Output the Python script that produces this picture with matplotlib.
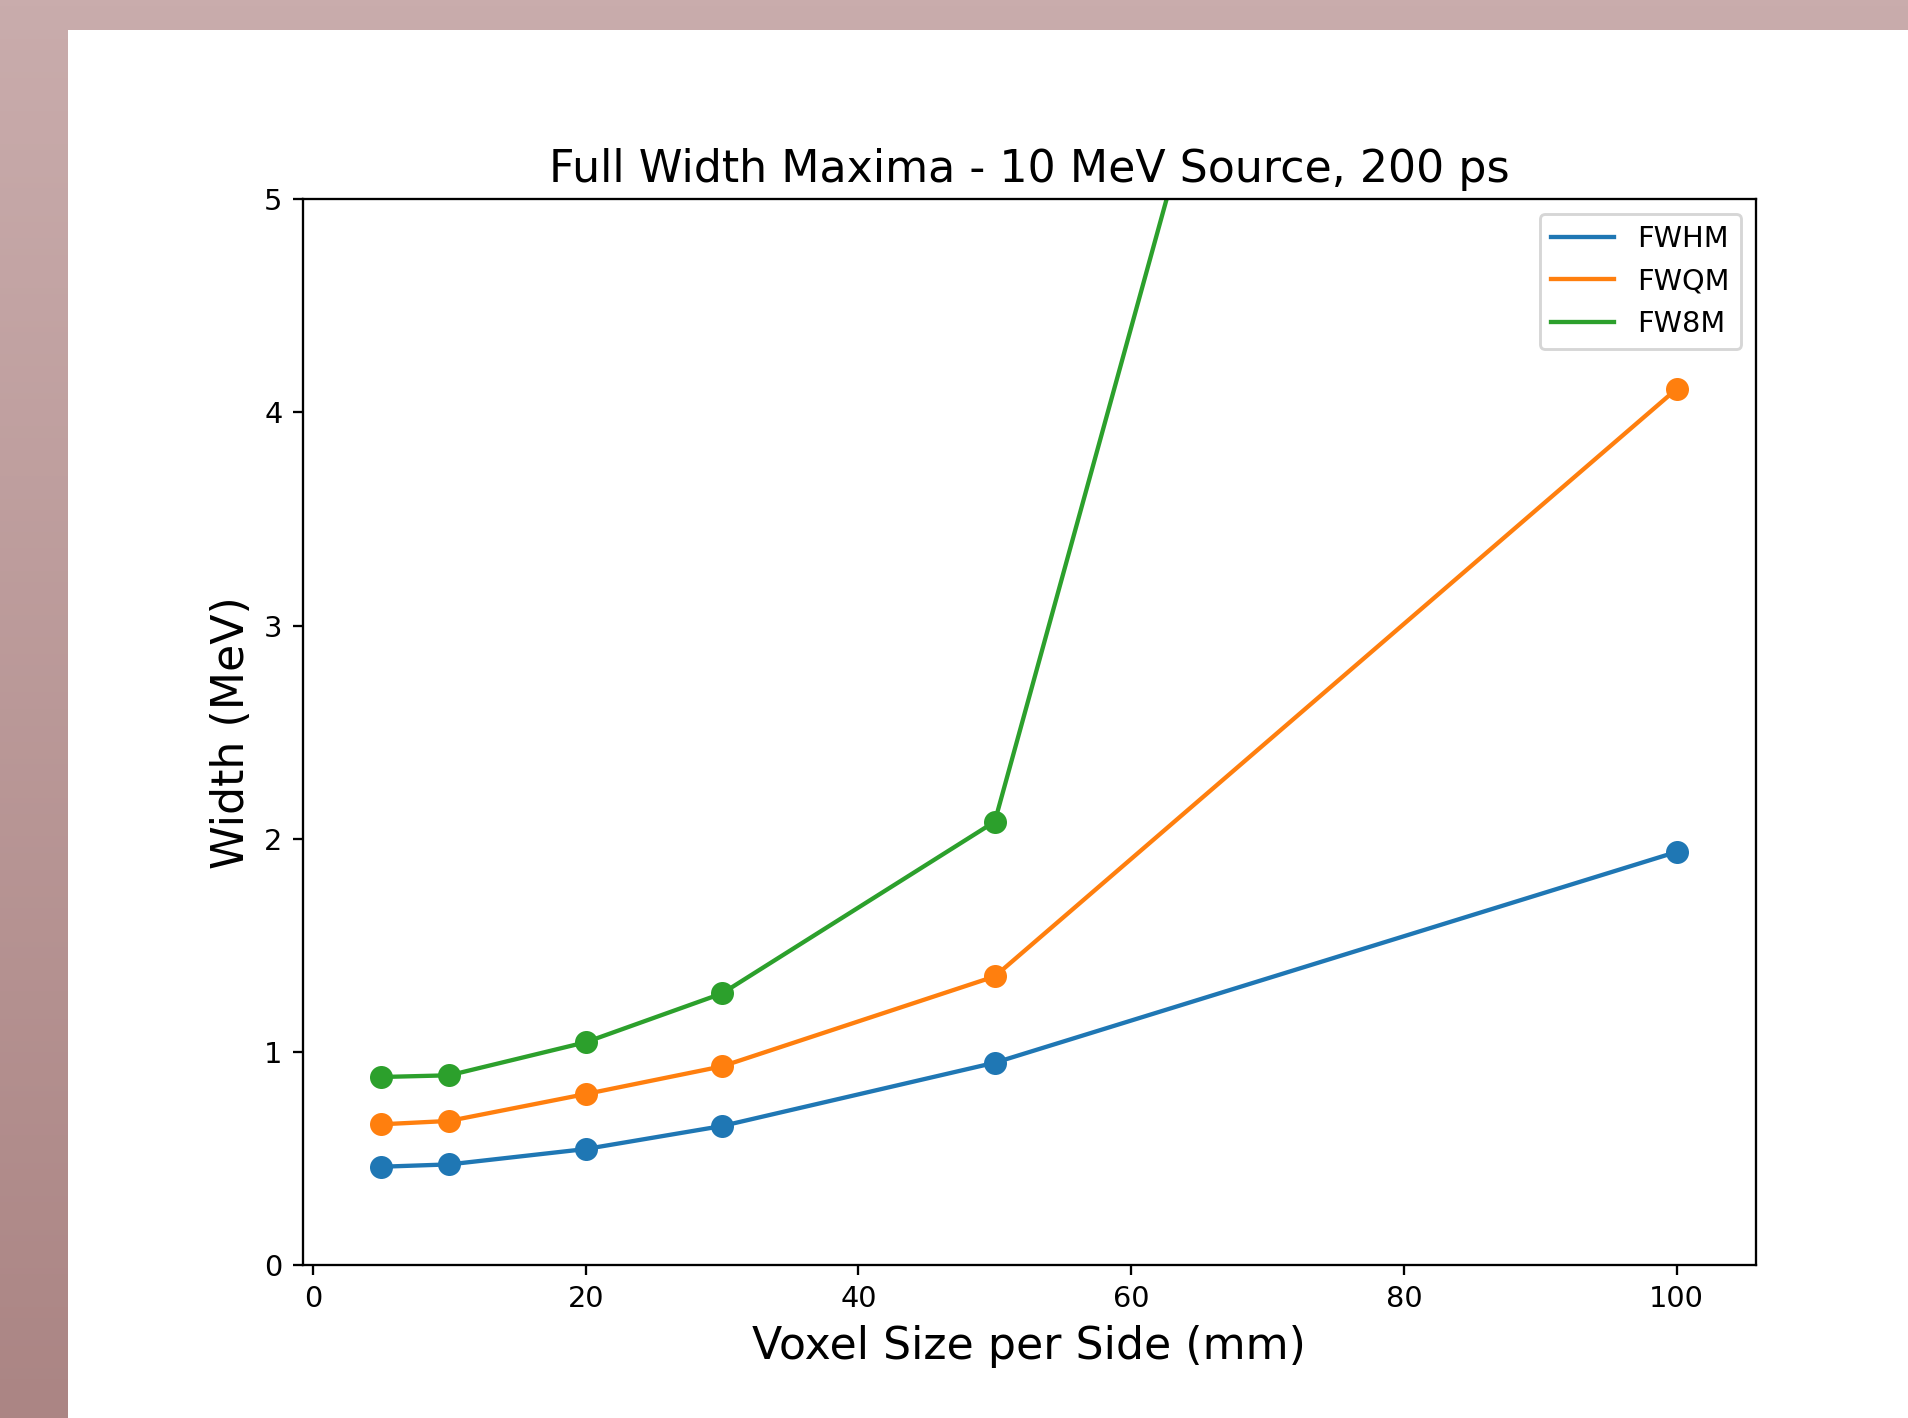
import numpy as np
import matplotlib
matplotlib.use("Agg")
import matplotlib.pyplot as plt
from matplotlib.patches import Rectangle

# Voxel edge lengths (mm) and the measured full widths (MeV)
voxel_size = [5, 10, 20, 30, 50, 100]
fwhm = [0.461, 0.472, 0.544, 0.652, 0.949, 1.938]
fwqm = [0.660, 0.676, 0.802, 0.932, 1.354, 4.110]
fw8m = [0.882, 0.890, 1.045, 1.274, 2.080, 13.67]

series_names = ["FWHM", "FWQM", "FW8M"]
x_ticks = [0, 20, 40, 60, 80, 100]
y_ticks = [0, 1, 2, 3, 4, 5]

DPI = 207
W, H = 1909, 1418
fig = plt.figure(figsize=(W / DPI, H / DPI), dpi=DPI)

# Slide background: mauve frame with a vertical gradient, white page on top
bg = fig.add_axes([0, 0, 1, 1], zorder=-10)
bg.set_axis_off()
top_c = np.array([0xc9, 0xac, 0xac]) / 255.0
bot_c = np.array([0xab, 0x85, 0x84]) / 255.0
t = np.linspace(0, 1, 256)[:, None]
grad = (1 - t) * top_c + t * bot_c
bg.imshow(grad[:, None, :], aspect="auto", extent=[0, 1, 0, 1], origin="upper")
bg.set_xlim(0, 1)
bg.set_ylim(0, 1)
bg.add_patch(Rectangle((68 / W, 0), 1 - 68 / W, 1 - 30 / H,
                       facecolor="white", edgecolor="none"))

ax = fig.add_axes([302.7 / W, 1 - 1265 / H, (1755.7 - 302.7) / W, (1265 - 199.3) / H])
colors = ["C0", "C1", "C2"]
for name, vals, c in zip(series_names, [fwhm, fwqm, fw8m], colors):
    # connecting line (legend entry) and the data points on top
    ax.plot(voxel_size, vals, color=c, linewidth=1.5, label=name)
    ax.plot(voxel_size, vals, linestyle="none", marker="o", markersize=7, color=c)

ax.set_xlim(-0.75, 105.8)
ax.set_ylim(0, 5)
ax.set_xticks(x_ticks)
ax.set_yticks(y_ticks)
ax.tick_params(labelsize=10)
ax.set_title("Full Width Maxima - 10 MeV Source, 200 ps", fontsize=15.4)
ax.set_xlabel("Voxel Size per Side (mm)", fontsize=15.4)
ax.set_ylabel("Width (MeV)", fontsize=15.4)
ax.legend(loc="upper right", fontsize=10, handlelength=2.2)

fig.savefig("out.png", dpi=DPI)
